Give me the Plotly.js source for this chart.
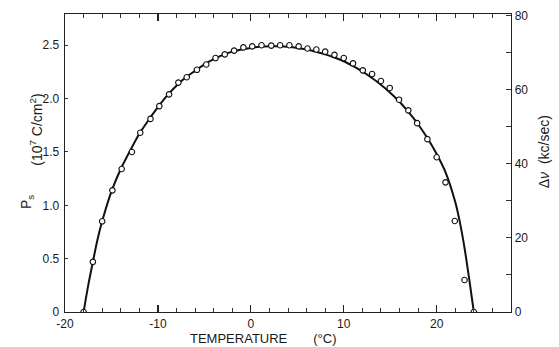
<!DOCTYPE html>
<html>
<head>
<meta charset="utf-8">
<script src="https://cdn.plot.ly/plotly-3.0.1.min.js"></script>
<style>html,body{margin:0;padding:0;background:#fff;}#chart{width:559px;height:347px;}</style>
</head>
<body>
<div id="chart"></div>
<script>
// Measured points: temperature (°C) and spontaneous polarization Ps (10^7 C/cm^2)
const pointTemp = [-18.0, -17.0, -16.0, -14.9, -13.9, -12.8, -11.9, -10.8, -9.85, -8.8, -7.8, -6.9, -5.8, -4.8, -3.8, -2.8, -1.8, -0.8, 0.15, 1.15, 2.2, 3.15, 4.15, 5.15, 6.1, 7.05, 8.0, 9.0, 10.0, 11.0, 12.05, 13.05, 14.0, 14.95, 15.95, 16.95, 17.9, 19.0, 20.0, 20.95, 21.95, 23.0, 24.0];
const pointPs = [0, 0.47, 0.85, 1.14, 1.34, 1.50, 1.68, 1.81, 1.93, 2.04, 2.15, 2.20, 2.27, 2.32, 2.38, 2.415, 2.45, 2.48, 2.49, 2.50, 2.497, 2.50, 2.50, 2.49, 2.47, 2.46, 2.44, 2.41, 2.38, 2.33, 2.265, 2.23, 2.165, 2.10, 1.99, 1.89, 1.77, 1.62, 1.45, 1.215, 0.853, 0.30, 0];
// Solid curve (ΔV scaled onto Ps axis)
const curveTemp = [-18, -17.5, -17, -16.5, -16, -15, -14, -13, -12, -11, -10, -9, -8, -7, -6, -5, -4, -3, -2, -1, 0, 1, 2, 3, 4, 5, 6, 7, 8, 9, 10, 11, 12, 13, 14, 15, 16, 17, 18, 19, 20, 21, 22, 22.5, 23, 23.5, 24];
const curvePs = [0, 0.25, 0.47, 0.68, 0.85, 1.13, 1.34, 1.51, 1.67, 1.80, 1.92, 2.03, 2.12, 2.20, 2.26, 2.32, 2.37, 2.41, 2.44, 2.46, 2.475, 2.485, 2.49, 2.49, 2.485, 2.475, 2.46, 2.44, 2.415, 2.385, 2.35, 2.305, 2.255, 2.195, 2.13, 2.055, 1.97, 1.87, 1.76, 1.63, 1.48, 1.30, 1.03, 0.84, 0.60, 0.31, 0];
const xTickVals = [-20, -10, 0, 10, 20];
const xTickText = ['-20', '-10', '0', '10', '20'];
const yTickVals = [0, 0.5, 1.0, 1.5, 2.0, 2.5];
const yTickText = ['0', '0.5', '1.0', '1.5', '2.0', '2.5'];
const y2TickVals = [0, 20, 40, 60, 80];

const font = {family: 'Liberation Sans, Arial, sans-serif', color: '#1a1a1a'};

const traces = [
  {x: curveTemp, y: curvePs, type: 'scatter', mode: 'lines',
   line: {color: '#111', width: 2, shape: 'spline', smoothing: 0.8}, hoverinfo: 'skip', showlegend: false},
  {x: pointTemp, y: pointPs, type: 'scatter', mode: 'markers',
   marker: {symbol: 'circle', size: 5.5, color: '#fff', line: {color: '#111', width: 1.1}}, showlegend: false},
  {x: [0], y: [0], yaxis: 'y2', type: 'scatter', mode: 'markers', marker: {opacity: 0}, hoverinfo: 'skip', showlegend: false}
];

const layout = {
  width: 559, height: 347,
  margin: {l: 65, r: 48, t: 14, b: 35},
  paper_bgcolor: '#fff', plot_bgcolor: '#fff',
  font: font,
  showlegend: false,
  xaxis: {
    range: [-20, 28], tickvals: xTickVals, ticktext: xTickText,
    showgrid: false, zeroline: false, showline: true, linecolor: '#222', linewidth: 1.3,
    mirror: 'ticks', ticks: 'inside', ticklen: 7, tickwidth: 1.2, tickcolor: '#222',
    minor: {dtick: 2, tick0: 0, ticks: 'inside', ticklen: 4, tickwidth: 1, tickcolor: '#333'},
    tickfont: {size: 12, family: font.family, color: '#1a1a1a'}
  },
  yaxis: {
    range: [0, 2.793], tickvals: yTickVals, ticktext: yTickText,
    showgrid: false, zeroline: false, showline: true, linecolor: '#222', linewidth: 1.3,
    mirror: false, ticks: 'inside', ticklen: 3, tickwidth: 1, tickcolor: '#333',
    ticklabelstandoff: 2,
    tickfont: {size: 12, family: font.family, color: '#1a1a1a'}
  },
  yaxis2: {
    overlaying: 'y', side: 'right', range: [0, 80.5], tickvals: y2TickVals,
    showgrid: false, zeroline: false, showline: true, linecolor: '#222', linewidth: 1.3,
    ticks: 'inside', ticklen: 5, tickwidth: 1, tickcolor: '#333',
    minor: {dtick: 10, ticks: 'inside', ticklen: 5, tickwidth: 1, tickcolor: '#333'},
    tickfont: {size: 12, family: font.family, color: '#1a1a1a'}
  },
  annotations: [
    {text: 'P<sub>s</sub>', xref: 'paper', yref: 'paper', x: -0.11, y: 0.369, showarrow: false, textangle: -90,
     font: {size: 14, family: font.family, color: '#1a1a1a'}},
    {text: '(10<sup>7</sup> C/cm<sup>2</sup>)', xref: 'paper', yref: 'paper', x: -0.09, y: 0.611, showarrow: false, textangle: -90,
     font: {size: 14, family: font.family, color: '#1a1a1a'}},
    {text: 'Δ<i>ν</i>  (kc/sec)', xref: 'paper', yref: 'paper', x: 1.097, y: 0.537, showarrow: false, textangle: -90,
     font: {size: 14, family: font.family, color: '#1a1a1a'}},
    {text: 'TEMPERATURE\u2003\u2003(°C)', xref: 'paper', yref: 'paper', x: 0.446, y: -0.116, showarrow: false, yanchor: 'bottom',
     borderpad: 0, font: {size: 13, family: font.family, color: '#1a1a1a'}}
  ]
};

Plotly.newPlot('chart', traces, layout, {displayModeBar: false, staticPlot: true});
</script>
</body>
</html>
